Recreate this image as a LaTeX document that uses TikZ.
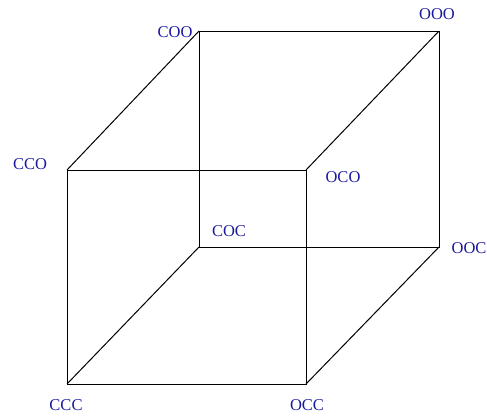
\documentclass[tikz,border=0pt]{standalone}
\usepackage{fontspec}
\setmainfont{Liberation Serif}
\usepackage{xcolor}
\usetikzlibrary{positioning}
\definecolor{labelblue}{rgb}{0.1,0.1,0.62}
\tikzset{
    vlabel/.style={text=labelblue, font=\fontsize{16.5}{18}\selectfont, inner sep=0pt},
    edge/.style={line width=1pt, black}
}
\begin{document}
\begin{tikzpicture}[x=1pt, y=-1pt]
    \useasboundingbox (0,0) rectangle (487,415);

    % corners of the cube
    \coordinate (ccc) at (67,384);
    \coordinate (occ) at (306,384);
    \coordinate (cco) at (67,170);
    \coordinate (oco) at (306,170);
    \coordinate (coc) at (199,247);
    \coordinate (ooc) at (439,247);
    \coordinate (coo) at (199,31);
    \coordinate (ooo) at (439,31);

    % front face
    \draw[edge] (ccc) -- (occ) -- (oco) -- (cco) -- cycle;
    % back face
    \draw[edge] (coc) -- (ooc) -- (ooo) -- (coo) -- cycle;
    % depth edges
    \draw[edge] (ccc) -- (coc);
    \draw[edge] (occ) -- (ooc);
    \draw[edge] (cco) -- (coo);
    \draw[edge] (oco) -- (ooo);

    % labels
    \node[vlabel] (lccc) at (66,405) {CCC};
    \node[vlabel] (locc) at (307,405) {OCC};
    \node[vlabel] (lcco) at (30,164) {CCO};
    \node[vlabel] (loco) at (343,177) {OCO};
    \node[vlabel] (lcoc) at (229,231) {COC};
    \node[vlabel] (looc) at (469,248) {OOC};
    \node[vlabel] (lcoo) at (175,32) {COO};
    \node[vlabel] (looo) at (437,14) {OOO};
\end{tikzpicture}
\end{document}
